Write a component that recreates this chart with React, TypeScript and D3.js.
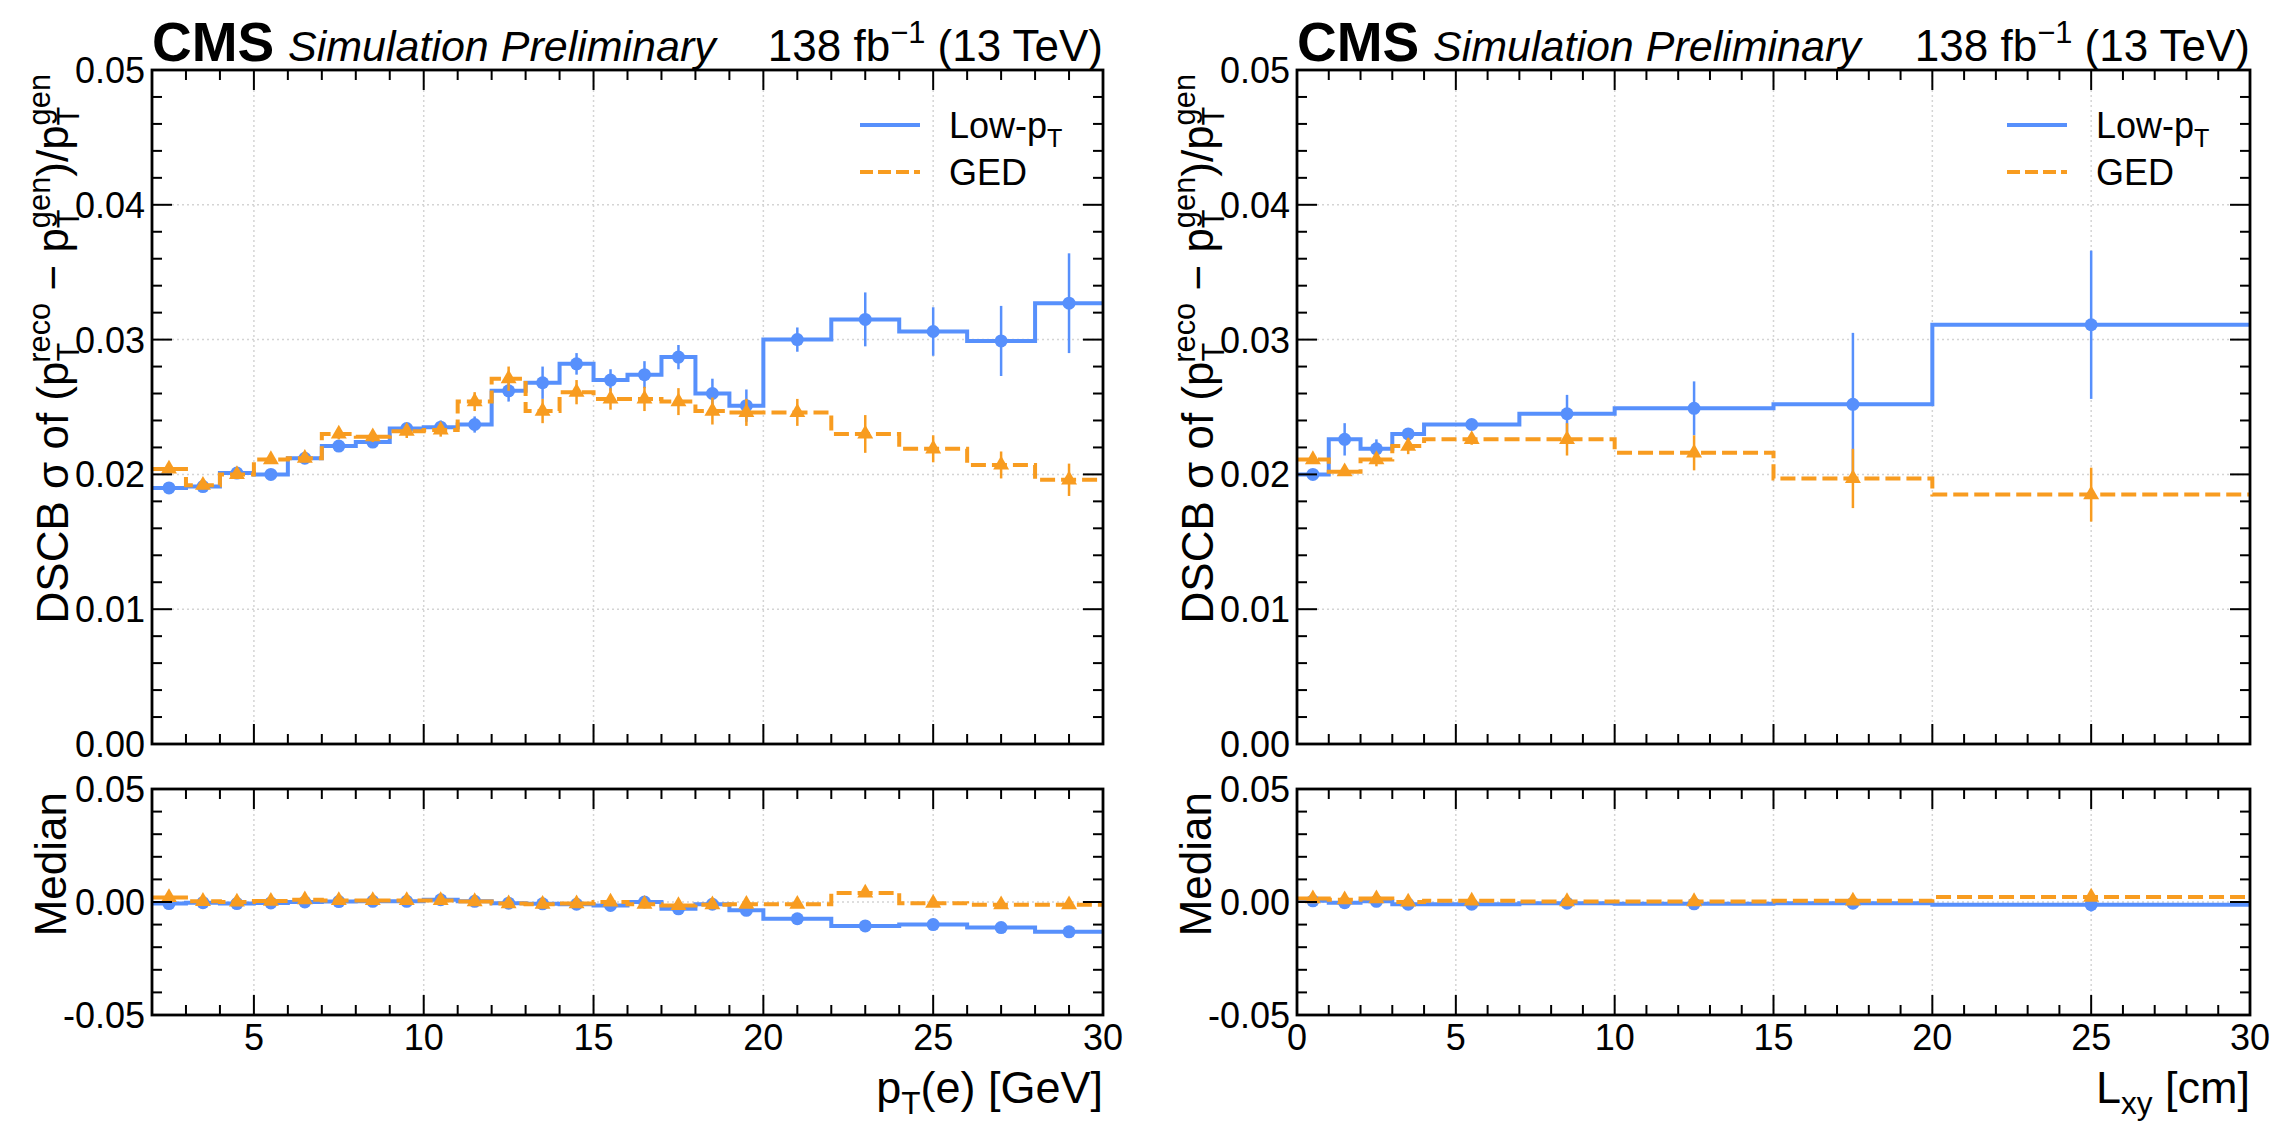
import React, { useEffect, useRef } from 'react';
import * as d3 from 'd3';

// ---- data ----
const ptEdges = [2, 3, 4, 5, 6, 7, 8, 9, 10, 11, 12, 13, 14, 15, 16, 17, 18, 19, 20, 22, 24, 26, 28, 30];

const ptLowSigma = [0.0190, 0.0191, 0.0201, 0.0200, 0.0212, 0.0221, 0.0224, 0.0234, 0.0235, 0.0237, 0.0262, 0.0268,
  0.0282, 0.0270, 0.0274, 0.0287, 0.0260, 0.0251, 0.0300, 0.0315, 0.0306, 0.0299, 0.0327];
const ptLowSigmaErr = [0.0002, 0.0002, 0.0002, 0.0002, 0.0003, 0.0003, 0.0003, 0.0004, 0.0005, 0.0006, 0.0008, 0.0012,
  0.0008, 0.0008, 0.0010, 0.0009, 0.0011, 0.0012, 0.0009, 0.0020, 0.0018, 0.0026, 0.0037];
const ptGedSigma = [0.0204, 0.0192, 0.0200, 0.0211, 0.0212, 0.0230, 0.0228, 0.0232, 0.0233, 0.0254, 0.0271, 0.0247,
  0.0261, 0.0256, 0.0256, 0.0254, 0.0247, 0.0246, 0.0246, 0.0230, 0.0219, 0.0207, 0.0196];
const ptGedSigmaErr = [0.0002, 0.0003, 0.0003, 0.0003, 0.0003, 0.0004, 0.0004, 0.0005, 0.0005, 0.0007, 0.0009, 0.0009,
  0.0009, 0.0008, 0.0009, 0.0010, 0.0010, 0.0010, 0.0010, 0.0014, 0.0010, 0.0010, 0.0012];

const ptLowMedian = [-0.0007, -0.0003, -0.0007, -0.0004, 0.0000, 0.0002, 0.0003, 0.0003, 0.0010, 0.0003, -0.0005, -0.0008,
  -0.0010, -0.0015, 0.0000, -0.0030, -0.0010, -0.0037, -0.0074, -0.0106, -0.0100, -0.0113, -0.0132];
const ptLowMedianErr = [0.0002, 0.0002, 0.0002, 0.0002, 0.0002, 0.0002, 0.0002, 0.0003, 0.0003, 0.0003, 0.0004, 0.0004,
  0.0004, 0.0004, 0.0005, 0.0005, 0.0005, 0.0006, 0.0005, 0.0006, 0.0007, 0.0008, 0.0010];
const ptGedMedian = [0.0020, 0.0003, 0.0000, 0.0004, 0.0010, 0.0007, 0.0007, 0.0007, 0.0007, 0.0002, -0.0007, -0.0010,
  -0.0007, 0.0000, -0.0010, -0.0015, -0.0012, -0.0010, -0.0010, 0.0040, -0.0005, -0.0012, -0.0012];
const ptGedMedianErr = [0.0002, 0.0002, 0.0002, 0.0002, 0.0002, 0.0002, 0.0003, 0.0003, 0.0003, 0.0003, 0.0004, 0.0004,
  0.0004, 0.0004, 0.0005, 0.0005, 0.0005, 0.0005, 0.0005, 0.0006, 0.0006, 0.0007, 0.0008];

const lxyEdges = [0, 1, 2, 3, 4, 7, 10, 15, 20, 30];

const lxyLowSigma = [0.0200, 0.0226, 0.0219, 0.0230, 0.0237, 0.0245, 0.0249, 0.0252, 0.0311];
const lxyLowSigmaErr = [0.0002, 0.0012, 0.0007, 0.0004, 0.0004, 0.0014, 0.0020, 0.0053, 0.0055];
const lxyGedSigma = [0.0211, 0.0202, 0.0211, 0.0221, 0.0226, 0.0226, 0.0216, 0.0197, 0.0185];
const lxyGedSigmaErr = [0.0003, 0.0003, 0.0005, 0.0006, 0.0004, 0.0012, 0.0013, 0.0022, 0.0020];

const lxyLowMedian = [0.0005, -0.0003, 0.0003, -0.0010, -0.0010, -0.0005, -0.0008, -0.0005, -0.0012];
const lxyLowMedianErr = [0.0003, 0.0005, 0.0005, 0.0005, 0.0004, 0.0006, 0.0008, 0.0012, 0.0030];
const lxyGedMedian = [0.0015, 0.0010, 0.0015, 0.0000, 0.0005, 0.0002, 0.0002, 0.0005, 0.0022];
const lxyGedMedianErr = [0.0003, 0.0003, 0.0005, 0.0005, 0.0004, 0.0006, 0.0008, 0.0012, 0.0015];

const topTicks = [0, 0.01, 0.02, 0.03, 0.04, 0.05];
const lowTicks = [-0.05, 0, 0.05];
const legendLabels = ['Low-p', 'GED'];

// ---- layout ----
const W = 2284;
const H = 1123;
const TOP = [70, 744];
const LOW = [789, 1015];
const FONT = "'Liberation Sans', Arial, Helvetica, sans-serif";
const BLUE = '#5790fc';
const ORANGE = '#f89c20';
const TICK_FS = 36;
const LABEL_FS = 44;

type Part = { t: string; s?: 'sub' | 'sup'; back?: number };

function rich(sel: any, parts: Part[], size: number) {
  let level = 0;
  parts.forEach(p => {
    const target = p.s === 'sub' ? 0.24 * size : p.s === 'sup' ? -0.42 * size : 0;
    const ts = sel.append('tspan')
      .attr('font-size', p.s ? size * 0.7 : size)
      .attr('dy', target - level)
      .text(p.t);
    if (p.back) ts.attr('dx', -p.back * size * 0.7);
    level = target;
  });
}

const yLabelParts: Part[] = [
  { t: 'DSCB σ of (p' }, { t: 'T', s: 'sub' }, { t: 'reco', s: 'sup', back: 0.611 },
  { t: ' − p' }, { t: 'T', s: 'sub' }, { t: 'gen', s: 'sup', back: 0.611 },
  { t: ')/p' }, { t: 'T', s: 'sub' }, { t: 'gen', s: 'sup', back: 0.611 },
];

interface PanelCfg {
  left: number;
  right: number;
  xDomain: [number, number];
  xMajors: number[];
  xMinors: number[];
  edges: number[];
  low: number[]; lowErr: number[]; ged: number[]; gedErr: number[];
  lowMed: number[]; lowMedErr: number[]; gedMed: number[]; gedMedErr: number[];
  xLabel: Part[];
}

const panels: PanelCfg[] = [
  {
    left: 152, right: 1103, xDomain: [2, 30],
    xMajors: [5, 10, 15, 20, 25, 30],
    xMinors: d3.range(3, 30).filter(v => v % 5 !== 0),
    edges: ptEdges,
    low: ptLowSigma, lowErr: ptLowSigmaErr, ged: ptGedSigma, gedErr: ptGedSigmaErr,
    lowMed: ptLowMedian, lowMedErr: ptLowMedianErr, gedMed: ptGedMedian, gedMedErr: ptGedMedianErr,
    xLabel: [{ t: 'p' }, { t: 'T', s: 'sub' }, { t: '(e) [GeV]' }],
  },
  {
    left: 1297, right: 2250, xDomain: [0, 30],
    xMajors: [0, 5, 10, 15, 20, 25, 30],
    xMinors: d3.range(1, 30).filter(v => v % 5 !== 0),
    edges: lxyEdges,
    low: lxyLowSigma, lowErr: lxyLowSigmaErr, ged: lxyGedSigma, gedErr: lxyGedSigmaErr,
    lowMed: lxyLowMedian, lowMedErr: lxyLowMedianErr, gedMed: lxyGedMedian, gedMedErr: lxyGedMedianErr,
    xLabel: [{ t: 'L' }, { t: 'xy', s: 'sub' }, { t: ' [cm]' }],
  },
];

function drawPanel(svg: any, p: PanelCfg) {
  const x = d3.scaleLinear().domain(p.xDomain).range([p.left, p.right]);
  const yTop = d3.scaleLinear().domain([0, 0.05]).range([TOP[1], TOP[0]]);
  const yLow = d3.scaleLinear().domain([-0.05, 0.05]).range([LOW[1], LOW[0]]);
  const g = svg.append('g');

  const fmtTop = (d: number) => d.toFixed(2);
  const fmtLow = (d: number) => (d < 0 ? '-' : '') + Math.abs(d).toFixed(2);

  const pane = (y: any, yMajors: number[], yMinors: number[], fmt: (d: number) => string, xLabels: boolean,
    lowV: number[], lowE: number[], gedV: number[], gedE: number[]) => {
    const [y0, y1] = y.range();
    const pg = g.append('g');

    // grid
    pg.append('g').selectAll('line').data(p.xMajors.filter(v => v > p.xDomain[0] && v < p.xDomain[1])).join('line')
      .attr('x1', (d: number) => x(d)).attr('x2', (d: number) => x(d))
      .attr('y1', y1).attr('y2', y0)
      .attr('stroke', '#d4d4d4').attr('stroke-width', 1.5).attr('stroke-dasharray', '2,3');
    pg.append('g').selectAll('line').data(yMajors.filter(v => y(v) > y1 + 1 && y(v) < y0 - 1)).join('line')
      .attr('x1', p.left).attr('x2', p.right)
      .attr('y1', (d: number) => y(d)).attr('y2', (d: number) => y(d))
      .attr('stroke', '#d4d4d4').attr('stroke-width', 1.5).attr('stroke-dasharray', '2,3');

    // series
    const drawSeries = (vals: number[], errs: number[], color: string, dashed: boolean, marker: 'circle' | 'triangle') => {
      const pts: [number, number][] = vals.map((v, i) => [p.edges[i], v]);
      pts.push([p.edges[p.edges.length - 1], vals[vals.length - 1]]);
      const line = d3.line<[number, number]>().x(d => x(d[0])).y(d => y(d[1])).curve(d3.curveStepAfter);
      const sg = pg.append('g');
      sg.append('path').attr('d', line(pts)).attr('fill', 'none')
        .attr('stroke', color).attr('stroke-width', 4)
        .attr('stroke-dasharray', dashed ? '15,6' : null);
      const centers = vals.map((_, i) => (p.edges[i] + p.edges[i + 1]) / 2);
      sg.append('g').selectAll('line').data(vals).join('line')
        .attr('x1', (_: number, i: number) => x(centers[i])).attr('x2', (_: number, i: number) => x(centers[i]))
        .attr('y1', (d: number, i: number) => y(d - errs[i])).attr('y2', (d: number, i: number) => y(d + errs[i]))
        .attr('stroke', color).attr('stroke-width', 2.5);
      if (marker === 'circle') {
        sg.append('g').selectAll('circle').data(vals).join('circle')
          .attr('cx', (_: number, i: number) => x(centers[i])).attr('cy', (d: number) => y(d))
          .attr('r', 6.5).attr('fill', color);
      } else {
        const sym = d3.symbol().type(d3.symbolTriangle).size(110);
        sg.append('g').selectAll('path').data(vals).join('path')
          .attr('transform', (d: number, i: number) => `translate(${x(centers[i])},${y(d)})`)
          .attr('d', sym()).attr('fill', color);
      }
    };
    drawSeries(lowV, lowE, BLUE, false, 'circle');
    drawSeries(gedV, gedE, ORANGE, true, 'triangle');

    // ticks (inward, all four sides)
    const tickG = pg.append('g').attr('stroke', '#000').attr('stroke-width', 2);
    const xt = (vals: number[], len: number) => {
      vals.forEach(v => {
        tickG.append('line').attr('x1', x(v)).attr('x2', x(v)).attr('y1', y0).attr('y2', y0 - len);
        tickG.append('line').attr('x1', x(v)).attr('x2', x(v)).attr('y1', y1).attr('y2', y1 + len);
      });
    };
    const yt = (vals: number[], len: number) => {
      vals.forEach(v => {
        tickG.append('line').attr('x1', p.left).attr('x2', p.left + len).attr('y1', y(v)).attr('y2', y(v));
        tickG.append('line').attr('x1', p.right).attr('x2', p.right - len).attr('y1', y(v)).attr('y2', y(v));
      });
    };
    xt(p.xMajors, 20); xt(p.xMinors, 10);
    yt(yMajors, 20); yt(yMinors, 10);

    // spines
    pg.append('rect').attr('x', p.left).attr('y', y1).attr('width', p.right - p.left).attr('height', y0 - y1)
      .attr('fill', 'none').attr('stroke', '#000').attr('stroke-width', 2.8);

    // y tick labels
    pg.append('g').selectAll('text').data(yMajors).join('text')
      .attr('x', p.left - 7).attr('y', (d: number) => y(d) + TICK_FS * 0.36)
      .attr('text-anchor', 'end').attr('font-size', TICK_FS).attr('font-family', FONT)
      .text((d: number) => fmt(d));

    if (xLabels) {
      pg.append('g').selectAll('text').data(p.xMajors).join('text')
        .attr('x', (d: number) => x(d)).attr('y', y0 + 9 + TICK_FS * 0.72)
        .attr('text-anchor', 'middle').attr('font-size', TICK_FS).attr('font-family', FONT)
        .text((d: number) => String(d));
    }
  };

  const topMinors = d3.range(1, 25).filter(i => i % 5 !== 0).map(i => i / 500);
  const lowMinors = [-4, -3, -2, -1, 1, 2, 3, 4].map(i => i / 100);
  pane(yTop, topTicks, topMinors, fmtTop, false, p.low, p.lowErr, p.ged, p.gedErr);
  pane(yLow, lowTicks, lowMinors, fmtLow, true, p.lowMed, p.lowMedErr, p.gedMed, p.gedMedErr);

  // axis labels
  const yl = g.append('text').attr('font-family', FONT).attr('text-anchor', 'end')
    .attr('transform', `translate(${p.left - 84},${TOP[0] + 4}) rotate(-90)`);
  rich(yl, yLabelParts, LABEL_FS);
  g.append('text').attr('font-family', FONT).attr('text-anchor', 'end').attr('font-size', LABEL_FS)
    .attr('transform', `translate(${p.left - 86},${LOW[0] + 3}) rotate(-90)`)
    .text('Median');
  const xl = g.append('text').attr('font-family', FONT).attr('text-anchor', 'end')
    .attr('x', p.right).attr('y', 1103);
  rich(xl, p.xLabel, 45);

  // header
  g.append('text').attr('x', p.left).attr('y', 61).attr('font-family', FONT)
    .attr('font-weight', 'bold').attr('font-size', 55).text('CMS');
  g.append('text').attr('x', p.left + 136).attr('y', 61).attr('font-family', FONT)
    .attr('font-style', 'italic').attr('font-size', 43).text('Simulation Preliminary');
  const lumi = g.append('text').attr('x', p.right).attr('y', 61).attr('font-family', FONT)
    .attr('text-anchor', 'end');
  rich(lumi, [{ t: '138 fb' }, { t: '−1', s: 'sup' }, { t: ' (13 TeV)' }], 44);

  // legend
  const lg = g.append('g').attr('font-family', FONT);
  [BLUE, ORANGE].forEach((c, i) => {
    const ly = 125 + i * 47;
    lg.append('line').attr('x1', p.right - 243).attr('x2', p.right - 183).attr('y1', ly).attr('y2', ly)
      .attr('stroke', c).attr('stroke-width', 4).attr('stroke-dasharray', i === 1 ? '13,5' : null);
    const t = lg.append('text').attr('x', p.right - 154).attr('y', ly + 13);
    rich(t, i === 0 ? [{ t: legendLabels[0] }, { t: 'T', s: 'sub' }] : [{ t: legendLabels[1] }], 36);
  });
}

export default function App() {
  const ref = useRef<SVGSVGElement>(null);

  useEffect(() => {
    if (!ref.current) return;
    const svg = d3.select(ref.current);
    svg.selectAll('*').remove();
    svg.append('rect').attr('width', W).attr('height', H).attr('fill', '#fff');
    panels.forEach(p => drawPanel(svg, p));
  }, []);

  return (
    <svg ref={ref} width={W} height={H}
      style={{ position: 'absolute', left: 0, top: 0, display: 'block', background: '#fff' }} />
  );
}
